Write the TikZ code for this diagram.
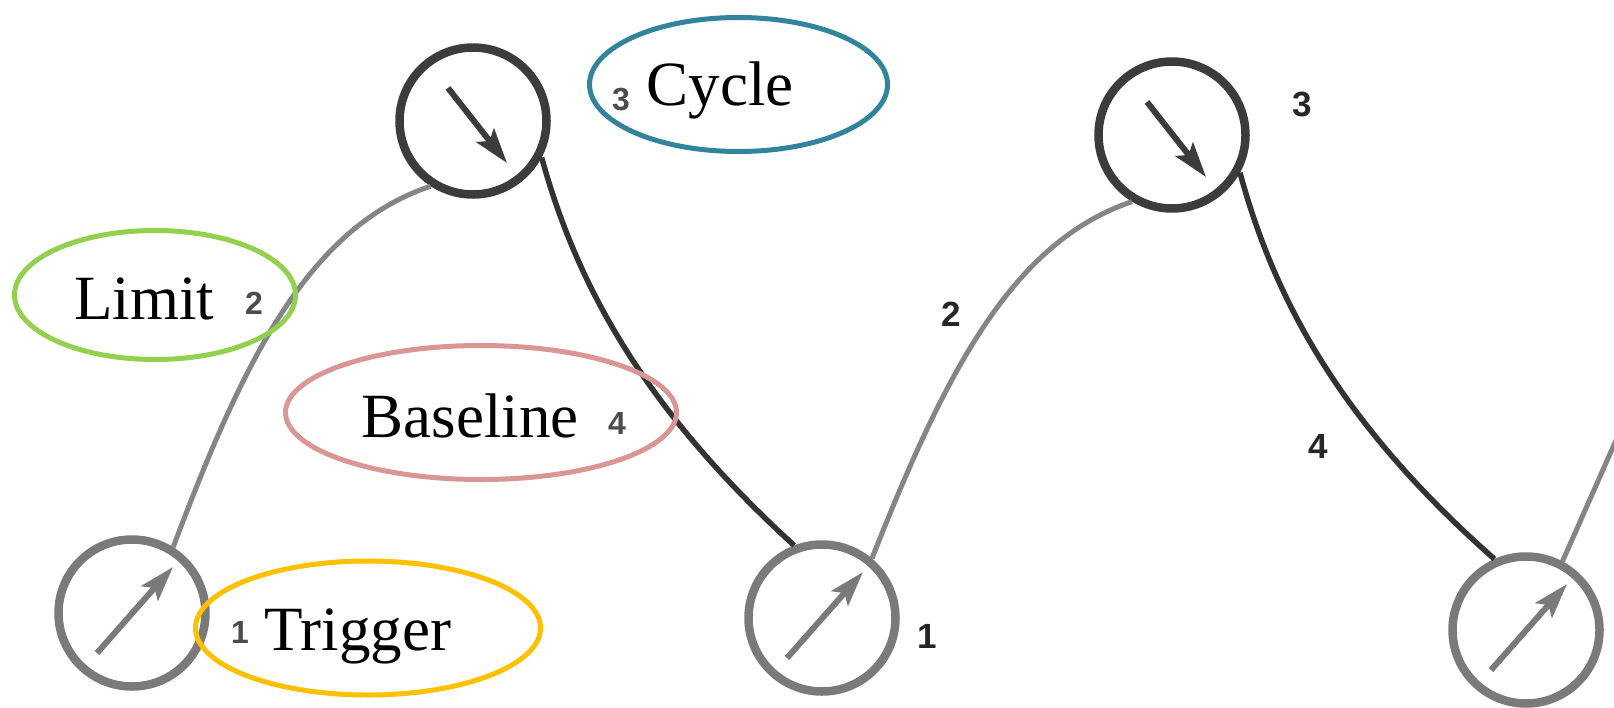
\documentclass[tikz,border=0pt]{standalone}
\usepackage{fontspec}
\setmainfont{Liberation Serif}
\newfontfamily\digitfont{Liberation Sans}
\usetikzlibrary{shapes.geometric,arrows.meta}
\definecolor{tealc}{HTML}{31849B}
\definecolor{greenc}{HTML}{92D050}
\definecolor{rosec}{HTML}{D99694}
\definecolor{goldc}{HTML}{FFC000}
\definecolor{darkgauge}{HTML}{3C3C3C}
\definecolor{graygauge}{HTML}{7A7A7A}
\definecolor{darkln}{HTML}{333333}
\definecolor{grayln}{HTML}{858585}
\tikzset{
  gauge/.style={circle, minimum size=147pt, inner sep=0pt, line width=8.5pt},
  topgauge/.style={gauge, draw=darkgauge},
  botgauge/.style={gauge, draw=graygauge},
  needle/.style={line width=6pt, -{Stealth[length=35pt,width=22pt,inset=7pt]}},
  topneedle/.style={needle, draw=darkgauge, fill=darkgauge},
  botneedle/.style={needle, draw=graygauge, fill=graygauge},
  grayline/.style={draw=grayln, line width=5pt},
  darkline/.style={draw=darkln, line width=5.5pt},
  ell/.style={ellipse, inner sep=0pt, line width=5pt},
  bigtext/.style={anchor=base, inner sep=0pt, font=\fontsize{63}{70}\selectfont},
  ldigit/.style={anchor=base, inner sep=0pt, text=black!70, font=\digitfont\bfseries\fontsize{32}{36}\selectfont},
  rdigit/.style={anchor=base, inner sep=0pt, text=black!85, font=\digitfont\bfseries\fontsize{35}{40}\selectfont}
}
\begin{document}
\begin{tikzpicture}[x=1pt,y=-1pt]
\clip (0,0) rectangle (1614,707);
\fill[white] (0,0) rectangle (1614,707);
% gauges
\node[botgauge] (a) at (132,613) {};
\node[topgauge] (t1) at (473,121) {};
\node[botgauge] (b) at (822,618) {};
\node[topgauge] (t2) at (1172,135) {};
\node[botgauge] (c) at (1526,630) {};
% needles
\foreach \n in {t1,t2}{
  \draw[topneedle] ([shift={(-25,-33)}]\n.center) -- ([shift={(34,42)}]\n.center);
}
\foreach \n in {a,b,c}{
  \draw[botneedle] ([shift={(-35,40)}]\n.center) -- ([shift={(41,-46)}]\n.center);
}
% connectors
\coordinate (offR) at (1636,395);
\draw[grayline] (a.58) .. controls (240,370) and (305,228) .. (t1.237);
\draw[darkline] (t1.332) .. controls (578,290) and (648,412) .. (b.111);
\draw[grayline] (b.50) .. controls (945,373) and (1012,242) .. (t2.239);
\draw[darkline] (t2.331) .. controls (1276,306) and (1346,428) .. (c.114);
\draw[grayline] (c.62) -- (offR);
% digits
\node[ldigit] (d3l) at (621,110) {3};
\node[ldigit] (d2l) at (254,314) {2};
\node[ldigit] (d4l) at (617,434) {4};
\node[ldigit] (d1l) at (240,643) {1};
\node[rdigit] (d3r) at (1302,116) {3};
\node[rdigit] (d2r) at (951,326) {2};
\node[rdigit] (d4r) at (1318,458) {4};
\node[rdigit] (d1r) at (927,648) {1};
% labels
\node[bigtext] (tcycle) at (720,105) {Cycle};
\node[bigtext] (tlimit) at (144,319) {Limit};
\node[bigtext] (tbase) at (470,437) {Baseline};
\node[bigtext] (ttrig) at (358,650) {Trigger};
% ellipses
\node[ell, draw=tealc, minimum width=298pt, minimum height=134pt] (ecycle) at (738.5,84.5) {};
\node[ell, draw=greenc, minimum width=281pt, minimum height=129pt] (elimit) at (155,295) {};
\node[ell, draw=rosec, minimum width=391pt, minimum height=134pt] (ebase) at (481,412.5) {};
\node[ell, draw=goldc, minimum width=345pt, minimum height=134pt] (etrig) at (368,628) {};
\end{tikzpicture}
\end{document}
